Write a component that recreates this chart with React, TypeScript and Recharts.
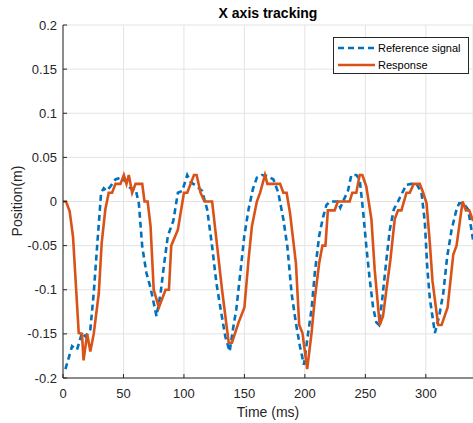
import React from 'react';
import { LineChart, Line, XAxis, YAxis, CartesianGrid } from 'recharts';

// Reference signal (ms, m)
const refTime = [2, 7.5, 11.6, 15.7, 18.5, 22.6, 25.4, 28.2, 31.5, 33.7, 35.9, 39.2, 43.4, 47.5, 51.7, 55.8, 60, 62.7, 65.5, 69, 72.4, 77.3, 80.7, 83.4, 86.7, 91.2, 95, 98.6, 102.7, 105.5, 111, 115, 119.2, 123.3, 126.8, 130.1, 134.2, 137.8, 140.5, 143.3, 146.6, 149.9, 153.4, 157, 160.3, 164.4, 169, 174, 178, 182.2, 185.5, 189, 192.6, 195.9, 199.2, 202.7, 205.5, 208.2, 211.8, 215, 217.8, 221, 227, 229.3, 231.5, 235.6, 238.4, 242.5, 245.3, 248, 250.8, 253.6, 256.4, 259.1, 261.3, 264, 267.4, 270.2, 273.5, 277, 279.8, 284, 288.1, 292.3, 296.4, 299.2, 301.1, 303.3, 307.5, 311, 314.4, 317.7, 321.3, 325.4, 327.6, 330.9, 335, 339];
const refValue = [-0.19, -0.164, -0.168, -0.149, -0.153, -0.145, -0.104, -0.051, 0.01, 0.015, 0.012, 0.017, 0.025, 0.027, 0.023, 0.015, 0.014, -0.002, -0.051, -0.081, -0.098, -0.13, -0.104, -0.073, -0.039, -0.022, 0.01, 0.012, 0.03, 0.022, 0.017, 0.012, -0.009, -0.051, -0.092, -0.12, -0.153, -0.17, -0.145, -0.122, -0.081, -0.039, -0.009, 0.014, 0.027, 0.03, 0.029, 0.025, 0.01, -0.02, -0.051, -0.104, -0.138, -0.164, -0.185, -0.149, -0.122, -0.081, -0.039, -0.018, -0.004, 0, 0, -0.007, 0, 0.012, 0.03, 0.03, 0.025, -0.009, -0.051, -0.088, -0.12, -0.137, -0.14, -0.11, -0.066, -0.032, -0.009, 0, 0.008, 0.019, 0.02, 0.02, 0.01, -0.024, -0.073, -0.11, -0.149, -0.13, -0.104, -0.062, -0.032, -0.009, -0.002, -0.002, -0.009, -0.043];

// Response (ms, m)
const respTime = [0, 2.5, 5.5, 8.3, 13, 15.7, 17, 20, 22.6, 25.4, 29.6, 32, 35, 37.8, 40.6, 43.4, 47.5, 50.3, 52.5, 54.4, 57.2, 60, 65.5, 67.4, 70, 72.4, 75, 79.3, 84.8, 87.6, 89.5, 95, 100, 102.7, 108.3, 110.5, 113.7, 117, 123.3, 127.4, 131.5, 137, 139.7, 145.2, 150, 153.4, 156.2, 160.3, 163, 167, 169, 171.2, 179.5, 182.2, 184.9, 187.7, 192.6, 195.3, 198, 201.9, 205.5, 208.2, 211.8, 214.5, 217, 219, 224.6, 227.3, 237, 239.2, 242.5, 245.3, 247.5, 250.8, 255, 257.7, 261.9, 264.6, 267.4, 270.7, 274.3, 277, 279.8, 284, 286.7, 290, 295, 297.8, 300.6, 303.3, 305.5, 310.2, 313, 318, 322.7, 325.4, 330.4, 333.1, 335.9, 339];
const respValue = [0, 0, -0.011, -0.04, -0.149, -0.15, -0.18, -0.15, -0.17, -0.15, -0.104, -0.047, -0.009, 0.01, 0.01, 0.02, 0.02, 0.03, 0.02, 0.03, 0.01, 0.02, 0.02, 0, 0, -0.028, -0.1, -0.12, -0.1, -0.1, -0.05, -0.032, 0.01, 0.01, 0.03, 0.03, 0.01, 0, 0, -0.05, -0.1, -0.16, -0.16, -0.137, -0.12, -0.066, -0.028, 0, 0.01, 0.03, 0.02, 0.02, 0.02, 0.01, 0.01, -0.013, -0.07, -0.14, -0.149, -0.19, -0.149, -0.11, -0.07, -0.05, -0.05, -0.01, -0.01, 0, 0, 0.01, 0.01, 0.03, 0.03, 0.017, -0.02, -0.077, -0.14, -0.13, -0.1, -0.066, -0.02, -0.01, -0.01, 0.01, 0.01, 0.02, 0.02, 0.01, -0.002, -0.047, -0.09, -0.14, -0.14, -0.12, -0.06, -0.05, 0, -0.01, -0.01, -0.022];

const xTicks = [0, 50, 100, 150, 200, 250, 300];
const yTicks = [-0.2, -0.15, -0.1, -0.05, 0, 0.05, 0.1, 0.15, 0.2];

const refData = refTime.map((t, i) => ({ t, v: refValue[i] }));
const respData = respTime.map((t, i) => ({ t, v: respValue[i] }));

const BLUE = '#0072BD';
const ORANGE = '#D95319';
const AXIS = '#262626';
const FONT = '"Liberation Sans", Arial, sans-serif';

export default function App() {
  return (
    <div style={{ position: 'absolute', left: 0, top: 0, width: 473, height: 423, background: '#fff', fontFamily: FONT }}>
      <LineChart width={473} height={423} margin={{ top: 25, right: 0, bottom: 0, left: 0 }}>
        <CartesianGrid stroke="#e3e3e3" strokeWidth={1} />
        <XAxis
          dataKey="t"
          type="number"
          domain={[0, 339]}
          ticks={xTicks}
          allowDataOverflow
          height={45}
          tickSize={-4}
          tickMargin={15}
          stroke={AXIS}
          tick={{ fill: AXIS, fontSize: 13, fontFamily: FONT }}
        />
        <XAxis
          xAxisId="top"
          orientation="top"
          dataKey="t"
          type="number"
          domain={[0, 339]}
          ticks={xTicks}
          height={0}
          tickSize={-4}
          stroke={AXIS}
          tickFormatter={() => ''}
        />
        <YAxis
          type="number"
          domain={[-0.2, 0.2]}
          ticks={yTicks}
          width={63}
          tickSize={-4}
          tickMargin={10}
          stroke={AXIS}
          tickFormatter={(v: number) => String(v)}
          tick={{ fill: AXIS, fontSize: 13, fontFamily: FONT }}
        />
        <Line
          data={refData}
          dataKey="v"
          type="linear"
          stroke={BLUE}
          strokeWidth={2.6}
          strokeDasharray="6 4"
          dot={false}
          isAnimationActive={false}
        />
        <Line
          data={respData}
          dataKey="v"
          type="linear"
          stroke={ORANGE}
          strokeWidth={2.6}
          dot={false}
          isAnimationActive={false}
        />
      </LineChart>

      <div style={{ position: 'absolute', top: 5, left: 63, width: 410, textAlign: 'center', fontSize: 14, fontWeight: 'bold', color: '#000' }}>
        X axis tracking
      </div>
      <div style={{ position: 'absolute', top: 404, left: 63, width: 410, textAlign: 'center', fontSize: 14, color: AXIS }}>
        Time (ms)
      </div>
      <div style={{ position: 'absolute', left: 17, top: 201, transform: 'translate(-50%, -50%) rotate(-90deg)', fontSize: 14, color: AXIS, whiteSpace: 'nowrap' }}>
        Position(m)
      </div>

      <div style={{ position: 'absolute', left: 333, top: 37, width: 134, height: 35, border: `1px solid ${AXIS}`, background: '#fff', fontSize: 11, color: '#000', whiteSpace: 'nowrap' }}>
        <svg width={134} height={35} style={{ position: 'absolute', left: 0, top: 0 }}>
          <line x1={4} y1={10} x2={41} y2={10} stroke={BLUE} strokeWidth={2.6} strokeDasharray="6 4" />
          <line x1={4} y1={27} x2={41} y2={27} stroke={ORANGE} strokeWidth={2.6} />
        </svg>
        <span style={{ position: 'absolute', left: 44, top: 3, lineHeight: '14px' }}>Reference signal</span>
        <span style={{ position: 'absolute', left: 44, top: 20, lineHeight: '14px' }}>Response</span>
      </div>
    </div>
  );
}
